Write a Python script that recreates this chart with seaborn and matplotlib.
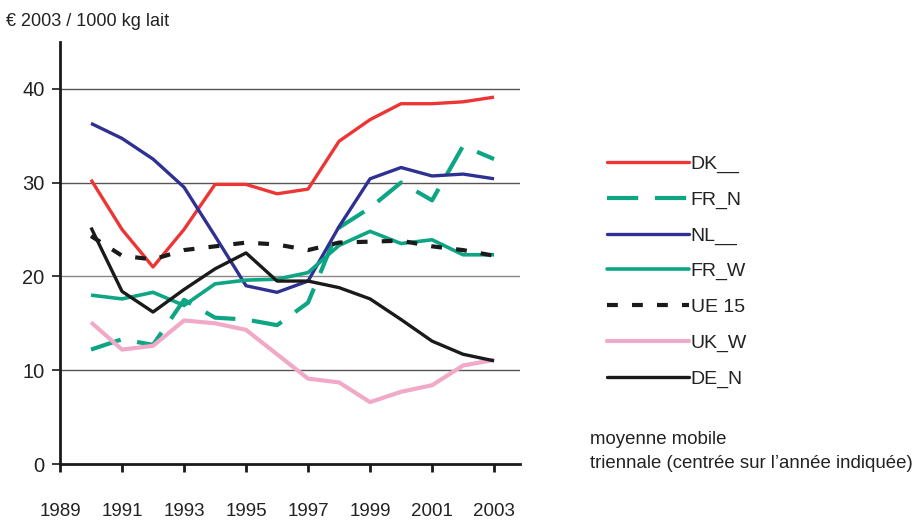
import numpy as np
import pandas as pd
import matplotlib
matplotlib.use("Agg")
import matplotlib.pyplot as plt
import seaborn as sns

# ---------- DATA ----------
YEARS = list(range(1990, 2004))
DK = [30.3, 25.0, 21.0, 25.0, 29.8, 29.8, 28.8, 29.3, 34.4, 36.7, 38.4, 38.4, 38.6, 39.1]
FR_N = [12.2, 13.3, 12.7, 17.5, 15.6, 15.4, 14.8, 17.2, 25.2, 27.3, 30.0, 28.1, 33.9, 32.5]
NL = [36.3, 34.7, 32.5, 29.5, 24.3, 19.0, 18.3, 19.5, 25.3, 30.4, 31.6, 30.7, 30.9, 30.4]
FR_W = [18.0, 17.6, 18.3, 16.9, 19.2, 19.6, 19.7, 20.4, 23.3, 24.8, 23.5, 23.9, 22.3, 22.3]
UE15 = [24.3, 22.2, 21.8, 22.8, 23.2, 23.6, 23.4, 22.8, 23.6, 23.7, 23.8, 23.2, 22.8, 22.2]
UK_W = [15.1, 12.2, 12.6, 15.3, 15.0, 14.3, 11.7, 9.1, 8.7, 6.6, 7.7, 8.4, 10.5, 11.1]
DE_N = [25.2, 18.4, 16.2, 18.6, 20.8, 22.5, 19.5, 19.5, 18.8, 17.6, 15.4, 13.1, 11.7, 11.0]

LABELS = ["DK__", "FR_N", "NL__", "FR_W", "UE 15", "UK_W", "DE_N"]
SERIES = [DK, FR_N, NL, FR_W, UE15, UK_W, DE_N]
COLORS = ["#EE3535", "#0DA583", "#2E3192", "#0DA583", "#1A1A1A", "#F0AAC8", "#1A1A1A"]
DASHES = ["", (7.5, 4), "", "", (2.6, 3.4), "", ""]
WIDTHS = [2.4, 3.0, 2.4, 2.6, 3.0, 3.0, 2.4]

X_TICKS = [1989, 1991, 1993, 1995, 1997, 1999, 2001, 2003]
Y_TICKS = [0, 10, 20, 30, 40]

FONT = ["Liberation Sans Narrow", "Liberation Sans", "DejaVu Sans"]


def build_frame():
    rows = []
    for label, vals in zip(LABELS, SERIES):
        for yr, v in zip(YEARS, vals):
            rows.append({"year": yr, "value": v, "serie": label})
    return pd.DataFrame(rows)


def main():
    sns.set_style("white")
    plt.rcParams["font.family"] = FONT

    df = build_frame()
    fig = plt.figure(figsize=(9.19, 5.22), dpi=100)
    ax = fig.add_axes([0.0653, 0.111, 0.501, 0.809])

    sns.lineplot(data=df, x="year", y="value", hue="serie", style="serie",
                 hue_order=LABELS, style_order=LABELS,
                 palette=dict(zip(LABELS, COLORS)),
                 dashes=dict(zip(LABELS, DASHES)),
                 ax=ax, legend=False)
    for line, lw in zip(ax.get_lines(), WIDTHS):
        line.set_linewidth(lw)
        line.set_solid_capstyle("butt")
        line.set_dash_capstyle("butt")

    ax.set_xlim(1989, 2003.85)
    ax.set_ylim(0, 45)
    ax.set_xticks(X_TICKS)
    ax.set_yticks(Y_TICKS)
    ax.set_xlabel("")
    ax.set_ylabel("")
    for yv in Y_TICKS[1:]:
        ax.axhline(yv, color="#555555" if yv != 20 else "#888888", lw=1.0, zorder=0)

    for s in ["top", "right"]:
        ax.spines[s].set_visible(False)
    for s in ["left", "bottom"]:
        ax.spines[s].set_color("#1A1A1A")
        ax.spines[s].set_linewidth(2.0)
    ax.tick_params(axis="x", direction="out", length=6, width=2.0, color="#1A1A1A",
                   pad=22, labelsize=13.5, bottom=True)
    ax.tick_params(axis="y", direction="out", length=6, width=1.2, color="#1A1A1A",
                   pad=5, labelsize=14.5, left=True)
    for t in ax.get_xticklabels() + ax.get_yticklabels():
        t.set_color("#222222")

    fig.text(0.006, 0.958, "€ 2003 / 1000 kg lait", fontsize=13, color="#222222",
             va="center", ha="left")

    handles = []
    for label, c, d, lw in zip(LABELS, COLORS, DASHES, WIDTHS):
        h, = ax.plot([], [], color=c, lw=lw, label=label,
                     dashes=d if d else (None, None))
        h.set_dash_capstyle("butt")
        handles.append(h)
    leg = fig.legend(handles=handles, labels=LABELS, loc="upper left",
                     bbox_to_anchor=(0.652, 0.718), frameon=False, fontsize=14,
                     handlelength=4.2, handletextpad=0.1, labelspacing=0.93,
                     borderaxespad=0)
    for t in leg.get_texts():
        t.set_color("#222222")

    fig.text(0.642, 0.135, "moyenne mobile\ntriennale (centrée sur l’année indiquée)",
             fontsize=13.4, color="#222222", va="center", ha="left", linespacing=1.55)

    fig.savefig("out.png", dpi=100)
    plt.close(fig)


if __name__ == "__main__":
    main()
